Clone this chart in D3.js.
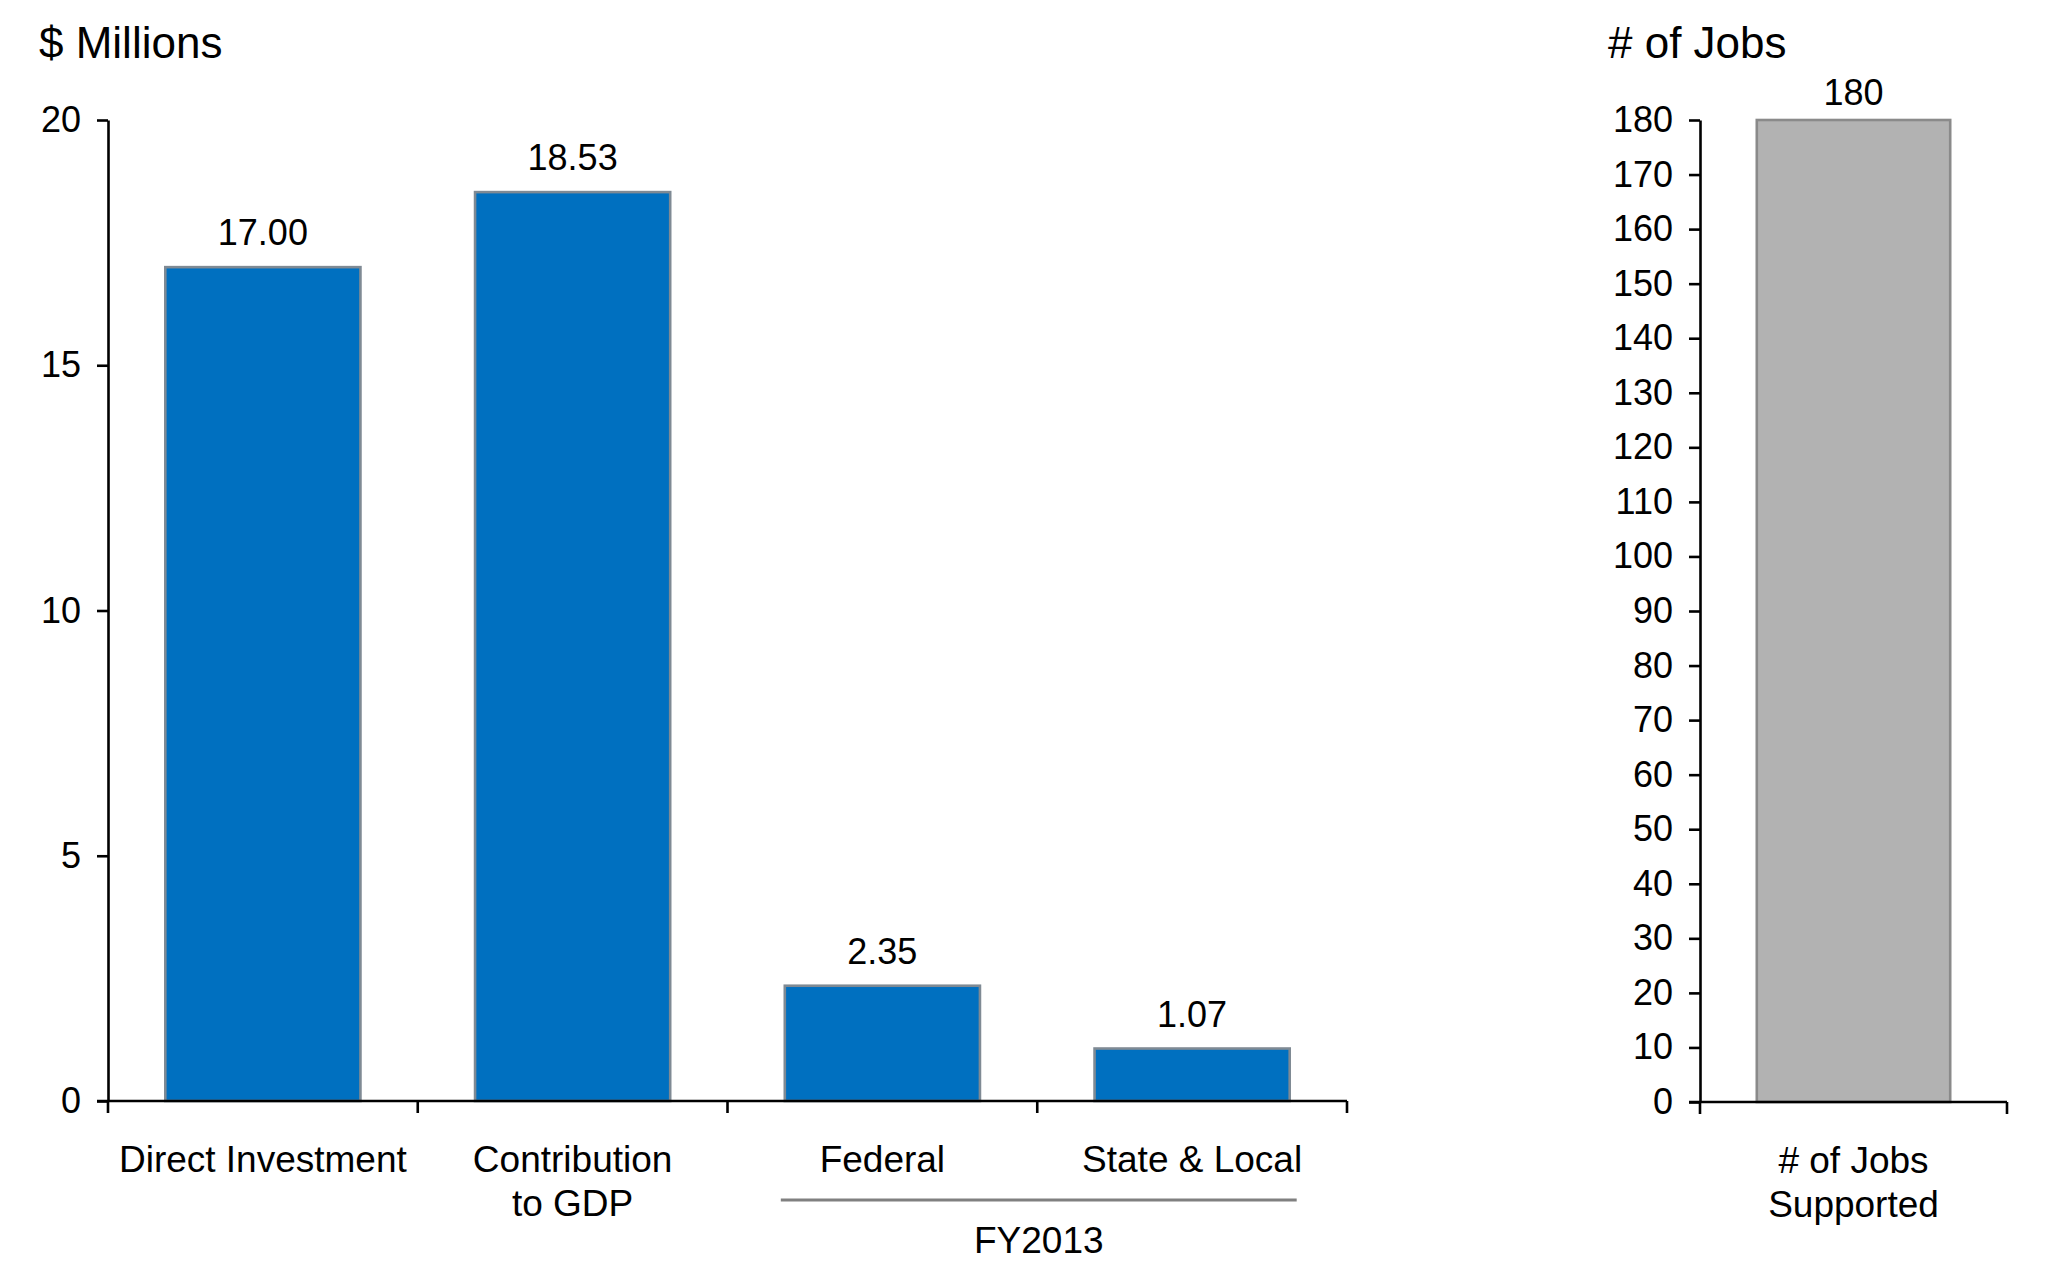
<!DOCTYPE html>
<html>
<head>
<meta charset="utf-8">
<script src="https://cdn.jsdelivr.net/npm/d3@7"></script>
<style>
  html, body { margin: 0; padding: 0; background: #fff; }
  svg text { font-family: "Liberation Sans", Arial, sans-serif; fill: #000; }
</style>
</head>
<body>
<svg id="chart" width="2048" height="1271"></svg>
<script>
// ---- data ----
const categories = ["Direct Investment", "Contribution\nto GDP", "Federal", "State & Local"];
const values = [17.00, 18.53, 2.35, 1.07];
const valueLabels = ["17.00", "18.53", "2.35", "1.07"];
const yTicks = [0, 5, 10, 15, 20];
const groupLabel = "FY2013";
const groupMembers = ["Federal", "State & Local"];
const leftTitle = "$ Millions";

const jobsCategories = ["# of Jobs\nSupported"];
const jobsValues = [180];
const jobsTicks = [0, 10, 20, 30, 40, 50, 60, 70, 80, 90, 100, 110, 120, 130, 140, 150, 160, 170, 180];
const rightTitle = "# of Jobs";

// ---- layout ----
const svg = d3.select("#chart");
const axisColor = "#000";
const axisW = 2.6;

function drawPanel(opts) {
  const { cats, vals, labels, ticks, x0, x1, yTop, yBottom, yMax, fill, stroke, tickFont, valFont, catFont } = opts;
  const x = d3.scaleBand().domain(cats).range([x0, x1]).paddingInner(0.37).paddingOuter(0.185);
  const y = d3.scaleLinear().domain([0, yMax]).range([yBottom, yTop]);
  const g = svg.append("g");

  // bars
  g.selectAll("rect.bar").data(cats).join("rect")
    .attr("class", "bar")
    .attr("x", d => x(d))
    .attr("width", x.bandwidth())
    .attr("y", (d, i) => y(vals[i]))
    .attr("height", (d, i) => y(0) - y(vals[i]))
    .attr("fill", fill)
    .attr("stroke", stroke)
    .attr("stroke-width", 2.6);

  // value labels
  g.selectAll("text.val").data(cats).join("text")
    .attr("class", "val")
    .attr("x", d => x(d) + x.bandwidth() / 2)
    .attr("y", (d, i) => y(vals[i]) - opts.valGap)
    .attr("text-anchor", "middle")
    .attr("font-size", valFont)
    .text((d, i) => labels[i]);

  // y axis
  const yAxis = d3.axisLeft(y).tickValues(ticks).tickSize(11).tickSizeOuter(0).tickPadding(16).tickFormat(d3.format("d"));
  const ga = g.append("g").attr("transform", `translate(${x0},0)`).call(yAxis);
  ga.select(".domain").attr("stroke", axisColor).attr("stroke-width", axisW);
  ga.selectAll(".tick line").attr("stroke", axisColor).attr("stroke-width", axisW);
  ga.selectAll(".tick text").attr("font-size", tickFont).attr("fill", "#000")
    .attr("font-family", '"Liberation Sans", Arial, sans-serif');

  // x axis line
  g.append("line")
    .attr("x1", x0 - 11).attr("x2", x1)
    .attr("y1", y(0)).attr("y2", y(0))
    .attr("stroke", axisColor).attr("stroke-width", axisW);
  // x ticks at band boundaries
  const step = x.step();
  const bounds = cats.map(d => x(d) - step * x.paddingInner() / 2).concat([x1]);
  bounds[0] = x0;
  g.selectAll("line.xt").data(bounds).join("line")
    .attr("class", "xt")
    .attr("x1", d => d).attr("x2", d => d)
    .attr("y1", y(0)).attr("y2", y(0) + 12)
    .attr("stroke", axisColor).attr("stroke-width", axisW);

  // category labels
  cats.forEach(c => {
    const lines = c.split("\n");
    const t = g.append("text")
      .attr("text-anchor", "middle")
      .attr("font-size", catFont)
      .attr("x", x(c) + x.bandwidth() / 2)
      .attr("y", opts.catBaseline);
    lines.forEach((ln, i) => {
      t.append("tspan").attr("x", x(c) + x.bandwidth() / 2)
        .attr("dy", i === 0 ? 0 : 44).text(ln);
    });
  });
  return { x, y, g };
}

// left panel
const left = drawPanel({
  cats: categories, vals: values, labels: valueLabels, ticks: yTicks,
  x0: 108, x1: 1347, yTop: 120, yBottom: 1101, yMax: 20,
  fill: "#0070C0", stroke: "#7F8A94",
  tickFont: 36, valFont: 36, catFont: 37, valGap: 22, catBaseline: 1172
});

// group bracket for FY2013
{
  const x = left.x;
  const gx0 = x(groupMembers[0]) - 4;
  const gx1 = x(groupMembers[1]) + x.bandwidth() + 7;
  left.g.append("line")
    .attr("x1", gx0).attr("x2", gx1).attr("y1", 1200).attr("y2", 1200)
    .attr("stroke", "#808080").attr("stroke-width", 3);
  left.g.append("text")
    .attr("x", (gx0 + gx1) / 2).attr("y", 1253)
    .attr("text-anchor", "middle").attr("font-size", 37)
    .text(groupLabel);
}

// right panel
drawPanel({
  cats: jobsCategories, vals: jobsValues, labels: jobsValues.map(String), ticks: jobsTicks,
  x0: 1700, x1: 2007, yTop: 120, yBottom: 1102, yMax: 180,
  fill: "#B2B2B2", stroke: "#8A8A8A",
  tickFont: 36, valFont: 36, catFont: 37, valGap: 15, catBaseline: 1173
});

// titles
svg.append("text").attr("x", 39).attr("y", 58).attr("font-size", 44).text(leftTitle);
svg.append("text").attr("x", 1608).attr("y", 58).attr("font-size", 44).text(rightTitle);
</script>
</body>
</html>
